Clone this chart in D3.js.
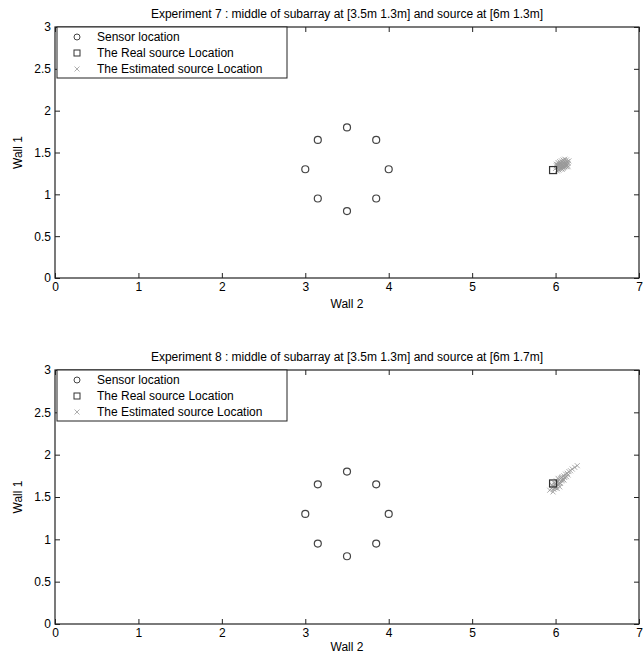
<!DOCTYPE html>
<html>
<head>
<meta charset="utf-8">
<script src="https://cdn.jsdelivr.net/npm/d3@7"></script>
<style>
  body { margin: 0; background: #fff; }
  svg { display: block; font-family: "Liberation Sans", Arial, sans-serif; }
</style>
</head>
<body>
<div id="chart"></div>
<script>
const width = 644;
const height = 655;

const xTicks = [0, 1, 2, 3, 4, 5, 6, 7];
const yTicks = [0, 0.5, 1, 1.5, 2, 2.5, 3];
const legendLabels = ['Sensor location', 'The Real source Location', 'The Estimated source Location'];

const titles = [
  'Experiment 7 : middle of subarray at [3.5m 1.3m] and source at [6m 1.3m]',
  'Experiment 8 : middle of subarray at [3.5m 1.3m] and source at [6m 1.7m]'
];

// circular subarray, same in both experiments
const sensors = [
  [4.00, 1.30], [3.85, 1.65], [3.50, 1.80], [3.15, 1.65],
  [3.00, 1.30], [3.15, 0.95], [3.50, 0.80], [3.85, 0.95]
];

const realSource7 = [5.97, 1.29];
const realSource8 = [5.97, 1.66];

const estimated7 = [
  [6.00, 1.31], [6.02, 1.32], [6.03, 1.30], [6.04, 1.33], [6.05, 1.34], [6.06, 1.32],
  [6.07, 1.35], [6.08, 1.36], [6.09, 1.34], [6.10, 1.37], [6.11, 1.35], [6.12, 1.38],
  [6.13, 1.36], [6.14, 1.39], [6.05, 1.36], [6.03, 1.35], [6.07, 1.31], [6.09, 1.38],
  [6.11, 1.33], [6.02, 1.28], [6.04, 1.29], [6.06, 1.37], [6.08, 1.33], [6.10, 1.40],
  [6.13, 1.33], [6.01, 1.34], [6.12, 1.36], [6.15, 1.37], [6.06, 1.30], [6.04, 1.36],
  [6.03, 1.38], [6.05, 1.39], [6.07, 1.40], [6.09, 1.41], [6.11, 1.42], [6.08, 1.30],
  [6.10, 1.32], [6.12, 1.34], [6.14, 1.35], [6.16, 1.40], [6.01, 1.36], [6.06, 1.34],
  [6.02, 1.35], [6.13, 1.41], [6.15, 1.33], [6.09, 1.31]
];

const estimated8 = [
  [5.93, 1.58], [5.95, 1.60], [5.97, 1.62], [5.98, 1.59], [5.99, 1.64], [6.00, 1.66],
  [6.01, 1.63], [6.02, 1.68], [6.03, 1.65], [6.04, 1.70], [6.05, 1.67], [6.06, 1.72],
  [6.07, 1.69], [6.08, 1.74], [6.09, 1.71], [6.10, 1.75], [6.11, 1.73], [6.12, 1.77],
  [6.14, 1.78], [6.16, 1.80], [6.18, 1.81], [6.20, 1.83], [6.23, 1.85], [6.26, 1.87],
  [5.96, 1.64], [6.00, 1.61], [6.03, 1.72], [6.06, 1.66], [6.08, 1.70], [5.98, 1.67],
  [6.13, 1.74], [6.02, 1.60], [5.97, 1.56], [6.05, 1.62], [6.15, 1.76], [6.01, 1.69],
  [5.99, 1.61], [6.04, 1.66], [6.07, 1.73], [6.10, 1.70]
];

const svg = d3.select('#chart')
  .append('svg')
    .attr('width', width)
    .attr('height', height);

const left = 55;
const right = 639;

function xMark(sel, s) {
  return sel.append('path')
    .attr('d', `M${-s},${-s}L${s},${s}M${-s},${s}L${s},${-s}`);
}

function panel(top, bottom, title, real, estimated) {
  const x = d3.scaleLinear().domain([0, 7]).range([left, right]);
  const y = d3.scaleLinear().domain([0, 3]).range([bottom, top]);
  const g = svg.append('g');

  g.append('text')
    .attr('x', (left + right) / 2)
    .attr('y', top - 9)
    .attr('text-anchor', 'middle')
    .attr('font-size', 12)
    .text(title);

  // inward ticks on all four sides
  const bx = g.append('g')
    .attr('transform', `translate(0,${bottom})`)
    .call(d3.axisBottom(x).tickValues(xTicks).tickSize(-5).tickPadding(4).tickFormat(d3.format('d')));
  const tx = g.append('g')
    .attr('transform', `translate(0,${top})`)
    .call(d3.axisTop(x).tickValues(xTicks).tickSize(-5).tickFormat(''));
  const ly = g.append('g')
    .attr('transform', `translate(${left},0)`)
    .call(d3.axisLeft(y).tickValues(yTicks).tickSize(-5).tickPadding(4).tickFormat(d => d));
  const ry = g.append('g')
    .attr('transform', `translate(${right},0)`)
    .call(d3.axisRight(y).tickValues(yTicks).tickSize(-5).tickFormat(''));

  [bx, tx, ly, ry].forEach(a => {
    a.select('.domain').remove();
    a.selectAll('text').attr('font-size', 12).attr('fill', '#000')
      .attr('font-family', '"Liberation Sans", Arial, sans-serif');
    a.selectAll('line').attr('stroke', '#222');
  });

  g.append('rect')
    .attr('x', left).attr('y', top)
    .attr('width', right - left).attr('height', bottom - top)
    .attr('fill', 'none').attr('stroke', '#222').attr('stroke-width', 1.2);

  g.append('text')
    .attr('x', (left + right) / 2)
    .attr('y', Math.min(bottom + 30, height - 4))
    .attr('text-anchor', 'middle')
    .attr('font-size', 12)
    .text('Wall 2');

  g.append('text')
    .attr('transform', `translate(22,${(top + bottom) / 2}) rotate(-90)`)
    .attr('text-anchor', 'middle')
    .attr('font-size', 12)
    .text('Wall 1');

  // estimated locations
  g.append('g')
    .attr('stroke', '#999').attr('stroke-width', 0.8).attr('fill', 'none')
    .selectAll('g')
    .data(estimated)
    .join('g')
      .attr('transform', d => `translate(${x(d[0])},${y(d[1])})`)
      .each(function() { xMark(d3.select(this), 2.5); });

  g.append('g')
    .attr('stroke', '#444').attr('stroke-width', 1.2).attr('fill', 'none')
    .selectAll('circle')
    .data(sensors)
    .join('circle')
      .attr('cx', d => x(d[0]))
      .attr('cy', d => y(d[1]))
      .attr('r', 3.5);

  g.append('rect')
    .attr('x', x(real[0]) - 3.5).attr('y', y(real[1]) - 3.5)
    .attr('width', 7).attr('height', 7)
    .attr('fill', 'none').attr('stroke', '#333').attr('stroke-width', 1.2);

  // legend
  const lg = g.append('g').attr('transform', `translate(${left + 2},${top})`);
  lg.append('rect')
    .attr('width', 230).attr('height', 51)
    .attr('fill', '#fff').attr('stroke', '#222').attr('stroke-width', 1);
  const rows = lg.selectAll('g.row')
    .data(legendLabels)
    .join('g')
      .attr('class', 'row')
      .attr('transform', (d, i) => `translate(20,${10 + i * 16})`);
  rows.append('text')
    .attr('x', 20).attr('dy', '0.35em')
    .attr('font-size', 12)
    .text(d => d);
  rows.filter((d, i) => i === 0).append('circle')
    .attr('r', 3).attr('fill', 'none').attr('stroke', '#444');
  rows.filter((d, i) => i === 1).append('rect')
    .attr('x', -3).attr('y', -3).attr('width', 6).attr('height', 6)
    .attr('fill', 'none').attr('stroke', '#333');
  rows.filter((d, i) => i === 2).append('g')
    .attr('stroke', '#999').attr('stroke-width', 0.8)
    .call(s => xMark(s, 2.5));
}

panel(27, 278, titles[0], realSource7, estimated7);
panel(370, 624, titles[1], realSource8, estimated8);
</script>
</body>
</html>
